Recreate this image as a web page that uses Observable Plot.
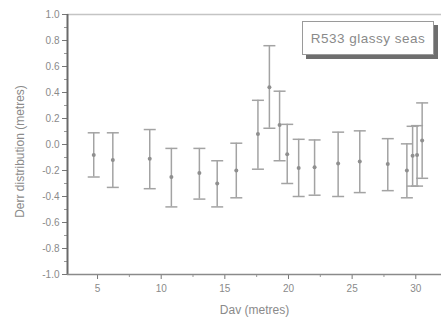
<!DOCTYPE html>
<html>
<head>
<meta charset="utf-8">
<script src="https://cdn.jsdelivr.net/npm/d3@7"></script>
<script src="https://cdn.jsdelivr.net/npm/@observablehq/plot@0.6"></script>
<style>
  html, body { margin: 0; padding: 0; background: #fff; }
  #wrap { position: relative; width: 441px; height: 328px; font-family: "Liberation Sans", Arial, sans-serif; }
  #legend {
    position: absolute; left: 302px; top: 21px; width: 132px; height: 34px;
    border: 1px solid #9a9a9a; background: #fff; box-shadow: 4px 4px 0 #6e6e6e;
    box-sizing: border-box; color: #8a8a8a; font-size: 13.5px; letter-spacing: 0.5px;
    display: flex; align-items: center; justify-content: center;
  }
</style>
</head>
<body>
<div id="wrap"></div>
<script>
// Derr distribution per Dav bin: centre value and error-bar limits (metres)
const dav   = [4.7, 6.2, 9.1, 10.8, 13.0, 14.4, 15.9, 17.6, 18.5, 19.3, 19.9, 20.8, 22.05, 23.9, 25.6, 27.8, 29.3, 29.75, 30.1, 30.5];
const derr  = [-0.08, -0.12, -0.11, -0.25, -0.22, -0.30, -0.20, 0.08, 0.44, 0.15, -0.075, -0.18, -0.175, -0.146, -0.13, -0.15, -0.20, -0.087, -0.08, 0.03];
const upper = [0.09, 0.09, 0.115, -0.03, -0.03, -0.125, 0.01, 0.34, 0.76, 0.41, 0.155, 0.04, 0.035, 0.095, 0.105, 0.045, 0.005, 0.14, 0.145, 0.32];
const lower = [-0.25, -0.33, -0.34, -0.48, -0.42, -0.48, -0.41, -0.19, 0.125, -0.125, -0.30, -0.40, -0.39, -0.40, -0.37, -0.355, -0.41, -0.32, -0.32, -0.26];

const xTicks = [5, 10, 15, 20, 25, 30];
const xMinor = [7.5, 12.5, 17.5, 22.5, 27.5];
const yTicks = [-1.0, -0.8, -0.6, -0.4, -0.2, 0.0, 0.2, 0.4, 0.6, 0.8, 1.0];
const yMinor = [-0.9, -0.7, -0.5, -0.3, -0.1, 0.1, 0.3, 0.5, 0.7, 0.9];
const xDomain = [2.64, 32.02];
const yDomain = [-1, 1];
const legendText = "R533 glassy seas";

const rows = dav.map((x, i) => ({x, y: derr[i], hi: upper[i], lo: lower[i]}));

// horizontal cap symbol, as wide as twice the dot radius
const cap = {
  draw(ctx, size) {
    const r = Math.sqrt(size / Math.PI);
    ctx.moveTo(-r, 0);
    ctx.lineTo(r, 0);
  }
};

const barColor = "#a3a3a3";
const textColor = "#8a8a8a";

const chart = Plot.plot({
  width: 441,
  height: 328,
  marginLeft: 67,
  marginRight: 0,
  marginTop: 14,
  marginBottom: 54,
  style: {fontFamily: "'Liberation Sans', Arial, sans-serif", color: textColor, background: "#fff"},
  x: {domain: xDomain},
  y: {domain: yDomain},
  marks: [
    Plot.ruleY([yDomain[1]], {stroke: "#c4c4c4", strokeWidth: 1.5}),
    Plot.axisY(yTicks, {
      tickSize: 5, tickPadding: 3, stroke: "#777", fontSize: 10,
      tickFormat: d => d.toFixed(1), fill: textColor,
      label: null, style: {letterSpacing: "1.1px"}
    }),
    Plot.axisY(yMinor, {tickSize: 3, text: null, stroke: "#999", label: null}),
    Plot.axisX(xTicks, {
      tickSize: 5, tickPadding: 5, stroke: "#777", fontSize: 10,
      fill: textColor, label: null, style: {letterSpacing: "1px"}
    }),
    Plot.axisX(xMinor, {tickSize: 3, text: null, stroke: "#999", label: null}),
    Plot.ruleX([xDomain[0]], {stroke: "#6a6a6a", strokeWidth: 2}),
    Plot.ruleY([yDomain[0]], {stroke: "#8a8a8a", strokeWidth: 1.5}),
    Plot.ruleX(rows, {x: "x", y1: "lo", y2: "hi", stroke: barColor, strokeWidth: 1.5}),
    Plot.dot(rows, {x: "x", y: "hi", symbol: cap, r: 6, stroke: barColor, strokeWidth: 1.5}),
    Plot.dot(rows, {x: "x", y: "lo", symbol: cap, r: 6, stroke: barColor, strokeWidth: 1.5}),
    Plot.dot(rows, {x: "x", y: "y", r: 2, fill: "#8f8f8f", stroke: "none"}),
    Plot.text(["Dav (metres)"], {
      frameAnchor: "bottom", dy: 39, text: d => d, fontSize: 12,
      fill: textColor, style: {letterSpacing: "0.9px"}
    }),
    Plot.text(["Derr distribution (metres)"], {
      frameAnchor: "left", textAnchor: "middle", dx: -47, dy: 7, rotate: -90,
      text: d => d, fontSize: 12, fill: textColor, style: {letterSpacing: "1.1px"}
    })
  ]
});

const wrap = document.getElementById("wrap");
wrap.appendChild(chart);
const legend = document.createElement("div");
legend.id = "legend";
legend.textContent = legendText;
wrap.appendChild(legend);
</script>
</body>
</html>
